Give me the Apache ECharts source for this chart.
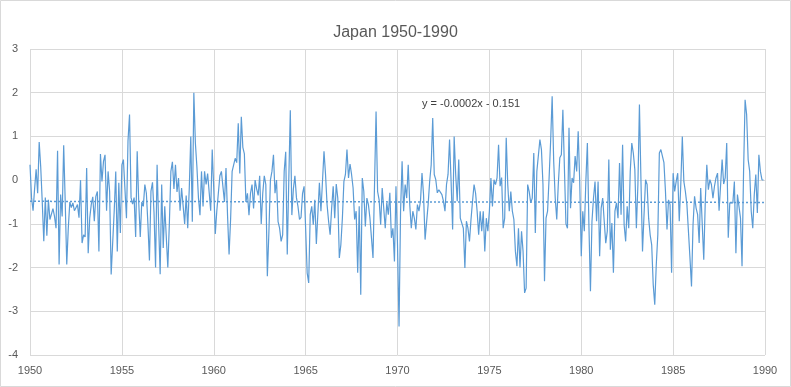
<!DOCTYPE html>
<html>
<head>
<meta charset="utf-8">
<script src="https://cdn.jsdelivr.net/npm/echarts@6/dist/echarts.min.js"></script>
<style>
html,body{margin:0;padding:0;background:#fff;}
#chart{width:791px;height:387px;}
</style>
</head>
<body>
<div id="chart"></div>
<script>
// Monthly values, Jan 1950 onward
const startYear = 1950;
const monthlyValues = [
  // 1950 - 1955
  0.35, -0.4, -0.7, -0.2, 0.25, -0.3, 0.87, 0.3, -0.5, -1.4,
  -0.4, -1.27, -0.45, -0.9, -0.9, -0.65, -0.83, -1.1, 0.67, -1.93,
  -0.33, -0.83, 0.8, -0.5, -1.93, -1.1, -0.5, -0.63, -0.52, -0.7,
  -0.63, -0.56, -0.86, 0.0, -1.44, -1.25, -1.3, 0.28, -1.67, -0.87,
  -0.56, -0.38, -0.94, -0.37, -0.26, -1.63, 0.6, -0.03, 0.43, 0.58,
  -0.7, 0.2, -0.26, -2.16, -2.16, -0.7, 0.2, -1.63, -0.06, -1.21,
  0.35,
  // 1955 - 1960
  0.47, -0.2, -0.87, 0.9, 1.5, -0.4, -0.55, -0.4, -1.3, 0.66,
  -0.5, -1.3, -0.5, -0.6, -0.1, -0.3, -1.0, -1.84, -0.25, -0.05,
  -0.75, -2.0, 0.35, -1.0, -2.15, -0.1, -1.55, -0.6, -0.6, -2.0,
  -1.0, 0.2, 0.42, -0.2, 0.35, -0.27, 0.05, -0.7, -0.18, -0.18,
  -1.0, -0.35, -1.1, -0.2, 1.0, -0.95, 2.0, 0.85, 0.3, -0.4,
  -0.8, 0.2, -0.6, 0.2, -0.1, 0.15, 0.15, -0.7,
  // 1960 - 1965
  0.7, -0.2, -1.23, -0.7, -0.68, 0.1, 0.2, 0.2, -0.5, 0.28,
  -0.8, -1.7, -0.9, 0.2, 0.35, 0.5, 0.4, 1.3, 0.15, 1.45,
  0.75, 0.6, -0.5, -0.3, -0.8, -0.3, -0.1, -0.65, 0.0, -0.2,
  -0.35, 0.1, -1.0, -0.3, 0.1, -0.1, -2.2, -1.2, 0.0, 0.2,
  0.58, -0.3, 0.0, -0.95, -1.1, -1.4, -1.25, 0.2, 0.65, -1.7,
  0.0, 1.6, -0.8, -0.2, 0.1, -0.4, -0.6, -0.9, -0.85, -0.3,
  // 1965 - 1970
  -0.14, -1.1, -2.12, -2.35, -0.79, -0.6, -1.02, -0.45, -1.46, -1.46,
  -0.06, -0.71, -0.03, 0.66, 0.13, -0.56, -0.94, -1.25, -0.64, -0.14,
  -0.87, -0.09, -0.41, -1.78, -1.48, -0.87, -0.03, 0.13, 0.7, 0.05,
  0.37, 0.13, -0.18, -0.9, -0.71, -2.12, -0.6, -2.62, 0.05, -0.26,
  -1.06, -0.41, -0.56, -0.87, -1.32, -1.78, -0.1, 1.57, -0.26, -0.45,
  -1.02, -0.18, -0.14, -1.1, -0.52, -0.79, -0.29, -1.32, -1.1,
  // 1970 - 1975
  -1.86, -0.14, -1.48, -3.35, -0.71, 0.43, -0.71, -0.1, -0.41, 0.35,
  -0.56, -1.1, -0.71, -0.87, -1.13, -0.56, -0.71, -0.48, 0.16, -0.33,
  -1.36, -1.36, -0.56, -0.03, 0.35, 1.42, 0.13, 0.01, -0.29, -0.22,
  -0.18, -0.33, -0.48, -0.71, -0.1, 0.13, 0.93, -0.03, -1.13, 1.0,
  0.13, -0.48, 0.47, -0.87, -0.87, -1.1, -2.01, -0.94, -1.1, -1.4,
  -0.9, -0.48, -0.1, -0.3, -0.71, -1.25, -0.71, -1.17, -0.71,
  // 1975 - 1980
  -1.63, -0.87, -1.17, -0.71, 0.05, -0.6, 0.01, -0.1, 0.05, 0.81,
  -0.14, 0.06, -1.1, -0.87, 0.97, -0.1, -0.71, -0.26, -0.71, -0.9,
  -1.63, -1.97, -1.1, -2.0, -1.17, -1.63, -2.58, -2.47, -0.1, -0.26,
  -0.52, -0.41, 0.62, -1.21, 0.2, 0.2, 0.93, 0.7, -0.1, -2.31,
  -0.87, -0.71, 0.05, 0.89, 1.92, 0.43, -0.41, -0.9, -0.1, 0.51,
  0.58, 1.61, 0.28, -1.0, -1.1, 1.2, -0.64, 0.05, -0.06,
  // 1980 - 1985
  0.55, 0.2, 1.12, -0.03, -1.74, -0.71, -1.17, -0.03, 0.85, -1.02,
  -2.54, -0.94, -0.41, -0.03, -0.94, -0.03, -1.74, -0.64, -0.41, -0.94,
  -1.44, -1.17, 0.47, -1.59, -0.98, -2.12, -0.71, -0.52, -0.87, 0.39,
  -0.79, 0.81, -1.02, -1.4, -0.6, -1.1, 0.2, 0.85, 0.62, 0.24,
  -1.1, -0.1, 1.73, -0.03, -1.63, -0.79, 0.01, -0.1, -0.87, -1.25,
  -1.48, -2.39, -2.85, -1.93, -1.25, 0.62, 0.7, 0.7, 0.4,
  // 1985 - 1990
  -0.26, -1.13, -0.45, -0.56, -2.12, 0.16, -0.26, -0.03, 0.16, -0.94,
  -0.1, 1.0, -0.03, -0.26, -0.56, -1.17, -1.78, -2.43, -1.02, -0.37,
  -0.64, -0.79, -1.44, -0.18, -0.14, -1.82, -0.48, 0.35, -0.22, 0.01,
  -0.1, -0.41, -0.14, 0.05, 0.16, -0.7, -0.7, 0.47, -0.09, 0.05,
  0.85, -1.32, -0.52, -0.48, -0.52, -0.03, -1.67, -0.33, -0.33, -0.87,
  -1.97, 0.2, 1.84, 1.5, 0.47, 0.2, -0.71, -1.1, -0.33, 0.13,
  -0.75, 0.58, 0.2, 0.01, 0.0
];

// Linear trendline ends
const trendYears = [1950, 1990];
const trendValues = [-0.485, -0.51];
const trendLabel = 'y = -0.0002x - 0.151';
const titleText = 'Japan 1950-1990';

const yAxisTicks = { min: -4, max: 3, interval: 1 };
const xAxisTicks = { min: 1950, max: 1990, interval: 5 };

const lineData = monthlyValues.map((v, i) => [startYear + i / 12, v]);
const trendData = trendYears.map((y, i) => [y, trendValues[i]]);

const chart = echarts.init(document.getElementById('chart'), null, { renderer: 'canvas' });
const textFont = '"Liberation Sans", Arial, sans-serif';
chart.setOption({
  animation: false,
  backgroundColor: '#ffffff',
  title: {
    text: titleText,
    left: 'center',
    top: 20,
    textStyle: { fontFamily: textFont, fontSize: 16, fontWeight: 'normal', color: '#595959' }
  },
  grid: { left: 30, right: 26, top: 49, bottom: 32, containLabel: false },
  xAxis: {
    type: 'value',
    min: xAxisTicks.min, max: xAxisTicks.max, interval: xAxisTicks.interval,
    axisLine: { show: true, lineStyle: { color: '#d9d9d9', width: 1 } },
    axisTick: { show: false },
    axisLabel: { color: '#595959', fontFamily: textFont, fontSize: 11, margin: 10,
      formatter: v => String(v) },
    splitLine: { show: true, lineStyle: { color: '#d9d9d9', width: 1 } }
  },
  yAxis: {
    type: 'value',
    min: yAxisTicks.min, max: yAxisTicks.max, interval: yAxisTicks.interval,
    axisLine: { show: false },
    axisTick: { show: false },
    axisLabel: { color: '#595959', fontFamily: textFont, fontSize: 11, margin: 12 },
    splitLine: { show: true, lineStyle: { color: '#d9d9d9', width: 1 } }
  },
  graphic: [
    { type: 'rect', silent: true, z: -1,
      shape: { x: 0.5, y: 0.5, width: 790, height: 386 },
      style: { fill: 'none', stroke: '#d9d9d9', lineWidth: 1 } },
    { type: 'text', left: 422, top: 98, silent: true,
      style: { text: trendLabel, fill: '#404040', font: '11px ' + textFont } }
  ],
  series: [
    {
      type: 'line',
      data: lineData,
      showSymbol: false,
      symbol: 'none',
      lineStyle: { color: '#5B9BD5', width: 1.2 },
      z: 3
    },
    {
      type: 'line',
      data: trendData,
      showSymbol: false,
      symbol: 'none',
      lineStyle: { color: '#5B9BD5', width: 1.5, type: [2, 2] },
      z: 2
    }
  ]
});
</script>
</body>
</html>
